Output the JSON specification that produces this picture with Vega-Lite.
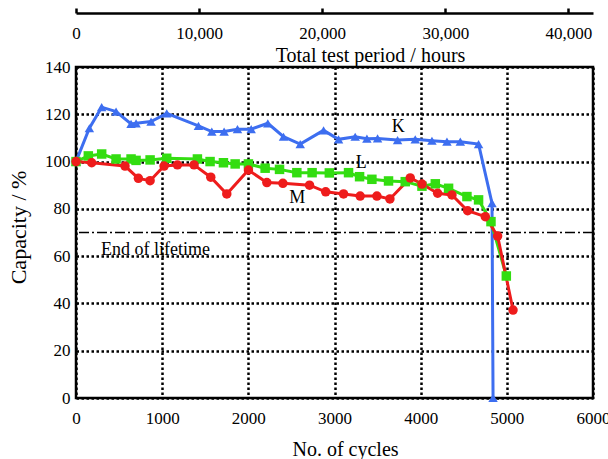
{
  "$schema": "https://vega.github.io/schema/vega-lite/v6.json",
  "width": 517,
  "height": 331,
  "autosize": {"type": "none"},
  "padding": {"left": 76, "top": 67, "right": 15, "bottom": 61},
  "background": "white",
  "config": {
    "font": "Liberation Serif",
    "view": {"stroke": "black", "strokeWidth": 2.5},
    "axis": {
      "labelFont": "Liberation Serif",
      "titleFont": "Liberation Serif",
      "labelColor": "black",
      "titleColor": "black",
      "labelFontSize": 17,
      "titleFontSize": 20,
      "titleFontWeight": "normal",
      "gridColor": "black",
      "gridOpacity": 1,
      "gridWidth": 2.5,
      "gridDash": [2.5, 2.5],
      "domain": false,
      "ticks": false,
      "labelFlush": false
    }
  },
  "datasets": {
    "series": [
      {"series": "K", "cycles": 0, "capacity": 100},
      {"series": "K", "cycles": 155, "capacity": 114.1},
      {"series": "K", "cycles": 298, "capacity": 123},
      {"series": "K", "cycles": 465, "capacity": 121.1},
      {"series": "K", "cycles": 639, "capacity": 115.9},
      {"series": "K", "cycles": 697, "capacity": 116.2},
      {"series": "K", "cycles": 871, "capacity": 116.9},
      {"series": "K", "cycles": 1053, "capacity": 120.4},
      {"series": "K", "cycles": 1421, "capacity": 115.1},
      {"series": "K", "cycles": 1576, "capacity": 112.7},
      {"series": "K", "cycles": 1719, "capacity": 112.7},
      {"series": "K", "cycles": 1874, "capacity": 113.7},
      {"series": "K", "cycles": 2033, "capacity": 113.7},
      {"series": "K", "cycles": 2226, "capacity": 116.2},
      {"series": "K", "cycles": 2408, "capacity": 110.5},
      {"series": "K", "cycles": 2602, "capacity": 107.4},
      {"series": "K", "cycles": 2873, "capacity": 113.2},
      {"series": "K", "cycles": 3047, "capacity": 109.4},
      {"series": "K", "cycles": 3240, "capacity": 110.5},
      {"series": "K", "cycles": 3376, "capacity": 109.7},
      {"series": "K", "cycles": 3500, "capacity": 109.8},
      {"series": "K", "cycles": 3732, "capacity": 109.1},
      {"series": "K", "cycles": 3937, "capacity": 109.4},
      {"series": "K", "cycles": 4131, "capacity": 108.8},
      {"series": "K", "cycles": 4305, "capacity": 108.4},
      {"series": "K", "cycles": 4460, "capacity": 108.4},
      {"series": "K", "cycles": 4672, "capacity": 107.4},
      {"series": "K", "cycles": 4828, "capacity": 82.4},
      {"series": "K", "cycles": 4840, "capacity": 0},
      {"series": "L", "cycles": 0, "capacity": 100},
      {"series": "L", "cycles": 143, "capacity": 102.4},
      {"series": "L", "cycles": 298, "capacity": 103.2},
      {"series": "L", "cycles": 465, "capacity": 101.1},
      {"series": "L", "cycles": 639, "capacity": 101.1},
      {"series": "L", "cycles": 697, "capacity": 100.5},
      {"series": "L", "cycles": 860, "capacity": 100.7},
      {"series": "L", "cycles": 1053, "capacity": 101.4},
      {"series": "L", "cycles": 1409, "capacity": 101.1},
      {"series": "L", "cycles": 1556, "capacity": 100},
      {"series": "L", "cycles": 1711, "capacity": 99.5},
      {"series": "L", "cycles": 1847, "capacity": 99},
      {"series": "L", "cycles": 2001, "capacity": 99},
      {"series": "L", "cycles": 2195, "capacity": 97.2},
      {"series": "L", "cycles": 2362, "capacity": 96.7},
      {"series": "L", "cycles": 2563, "capacity": 95.3},
      {"series": "L", "cycles": 2740, "capacity": 95.3},
      {"series": "L", "cycles": 2940, "capacity": 95.2},
      {"series": "L", "cycles": 3163, "capacity": 95.3},
      {"series": "L", "cycles": 3291, "capacity": 93.6},
      {"series": "L", "cycles": 3434, "capacity": 92.5},
      {"series": "L", "cycles": 3627, "capacity": 91.8},
      {"series": "L", "cycles": 3821, "capacity": 91.5},
      {"series": "L", "cycles": 4015, "capacity": 89.6},
      {"series": "L", "cycles": 4170, "capacity": 90.6},
      {"series": "L", "cycles": 4324, "capacity": 88.7},
      {"series": "L", "cycles": 4537, "capacity": 85.2},
      {"series": "L", "cycles": 4672, "capacity": 83.8},
      {"series": "L", "cycles": 4816, "capacity": 74.6},
      {"series": "L", "cycles": 4994, "capacity": 51.6},
      {"series": "M", "cycles": 0, "capacity": 100},
      {"series": "M", "cycles": 182, "capacity": 99.5},
      {"series": "M", "cycles": 569, "capacity": 98.1},
      {"series": "M", "cycles": 724, "capacity": 92.9},
      {"series": "M", "cycles": 860, "capacity": 91.9},
      {"series": "M", "cycles": 1022, "capacity": 98.1},
      {"series": "M", "cycles": 1177, "capacity": 98.6},
      {"series": "M", "cycles": 1370, "capacity": 98.6},
      {"series": "M", "cycles": 1564, "capacity": 93.4},
      {"series": "M", "cycles": 1750, "capacity": 86.3},
      {"series": "M", "cycles": 2001, "capacity": 96.4},
      {"series": "M", "cycles": 2215, "capacity": 91.1},
      {"series": "M", "cycles": 2401, "capacity": 90.8},
      {"series": "M", "cycles": 2710, "capacity": 90},
      {"series": "M", "cycles": 2898, "capacity": 87.2},
      {"series": "M", "cycles": 3105, "capacity": 86.3},
      {"series": "M", "cycles": 3298, "capacity": 85.4},
      {"series": "M", "cycles": 3492, "capacity": 85.4},
      {"series": "M", "cycles": 3643, "capacity": 84.2},
      {"series": "M", "cycles": 3879, "capacity": 93.1},
      {"series": "M", "cycles": 4015, "capacity": 90.5},
      {"series": "M", "cycles": 4197, "capacity": 86.6},
      {"series": "M", "cycles": 4363, "capacity": 85.9},
      {"series": "M", "cycles": 4545, "capacity": 79.2},
      {"series": "M", "cycles": 4750, "capacity": 76.7},
      {"series": "M", "cycles": 4893, "capacity": 68.5},
      {"series": "M", "cycles": 5072, "capacity": 37.2}
    ],
    "seriesLabels": [
      {"text": "K", "cycles": 3740, "capacity": 112.5},
      {"text": "L", "cycles": 3310, "capacity": 97.3},
      {"text": "M", "cycles": 2567, "capacity": 82.5}
    ],
    "notes": [
      {"text": "End of lifetime", "cycles": 290, "capacity": 60.3}
    ],
    "threshold": [{"capacity": 70}]
  },
  "layer": [
    {
      "layer": [
        {
          "data": {"name": "threshold"},
          "mark": {"type": "rule", "color": "black", "strokeWidth": 1.5, "strokeDash": [10, 3, 2, 3]},
          "encoding": {
            "y": {"field": "capacity", "type": "quantitative", "scale": {"domain": [0, 140], "nice": false}}
          }
        },
        {
          "data": {"name": "series"},
          "mark": {"type": "line", "strokeWidth": 3},
          "encoding": {
            "x": {
              "field": "cycles", "type": "quantitative",
              "scale": {"domain": [0, 6000], "nice": false},
              "axis": {
                "title": "No. of cycles",
                "values": [0, 1000, 2000, 3000, 4000, 5000, 6000],
                "format": "d",
                "labelFont": "Liberation Serif",
                "titleFont": "Liberation Serif",
                "labelPadding": 12,
                "titleX": 269,
                "titleY": 57,
                "titleBaseline": "alphabetic"
              }
            },
            "y": {
              "field": "capacity", "type": "quantitative",
              "scale": {"domain": [0, 140], "nice": false},
              "axis": {
                "title": "Capacity / %",
                "values": [0, 20, 40, 60, 80, 100, 120, 140],
                "labelFont": "Liberation Serif",
                "titleFont": "Liberation Serif",
                "labelPadding": 6,
                "titleFontSize": 22,
                "titleX": -51,
                "titleY": 160,
                "titleBaseline": "alphabetic"
              }
            },
            "color": {
              "field": "series", "type": "nominal",
              "scale": {"domain": ["K", "L", "M"], "range": ["#3d6ef0", "#33dd11", "#ee1c1c"]},
              "legend": null
            }
          }
        },
        {
          "data": {"name": "series"},
          "mark": {"type": "point", "filled": true, "opacity": 1, "size": 90},
          "encoding": {
            "x": {"field": "cycles", "type": "quantitative"},
            "y": {"field": "capacity", "type": "quantitative"},
            "color": {"field": "series", "type": "nominal", "legend": null},
            "shape": {
              "field": "series", "type": "nominal",
              "scale": {"domain": ["K", "L", "M"], "range": ["triangle-up", "square", "circle"]},
              "legend": null
            }
          }
        },
        {
          "data": {"name": "seriesLabels"},
          "mark": {"type": "text", "font": "Liberation Serif", "fontSize": 18, "color": "black", "baseline": "alphabetic", "align": "center"},
          "encoding": {
            "x": {"field": "cycles", "type": "quantitative"},
            "y": {"field": "capacity", "type": "quantitative"},
            "text": {"field": "text"}
          }
        },
        {
          "data": {"name": "notes"},
          "mark": {"type": "text", "font": "Liberation Serif", "fontSize": 18, "color": "black", "baseline": "alphabetic", "align": "left"},
          "encoding": {
            "x": {"field": "cycles", "type": "quantitative"},
            "y": {"field": "capacity", "type": "quantitative"},
            "text": {"field": "text"}
          }
        }
      ]
    },
    {
      "data": {"name": "series"},
      "mark": {"type": "tick", "opacity": 0},
      "encoding": {
        "x": {
          "field": "cycles", "type": "quantitative",
          "axis": {
            "orient": "top",
            "offset": 54,
            "grid": false,
            "domain": true,
            "domainColor": "black",
            "domainWidth": 2.5,
            "ticks": true,
            "tickColor": "black",
            "tickWidth": 2.5,
            "tickSize": 5,
            "values": [0, 1428.5714, 2857.1429, 4285.7143, 5714.2857],
            "labelExpr": "format(round(datum.value * 7), ',')",
            "labelFont": "Liberation Serif",
            "titleFont": "Liberation Serif",
            "labelBaseline": "alphabetic",
            "labelPadding": -30,
            "title": "Total test period / hours",
            "titleX": 294,
            "titleY": 48,
            "titleBaseline": "alphabetic"
          }
        }
      }
    }
  ],
  "resolve": {"axis": {"x": "independent"}}
}
